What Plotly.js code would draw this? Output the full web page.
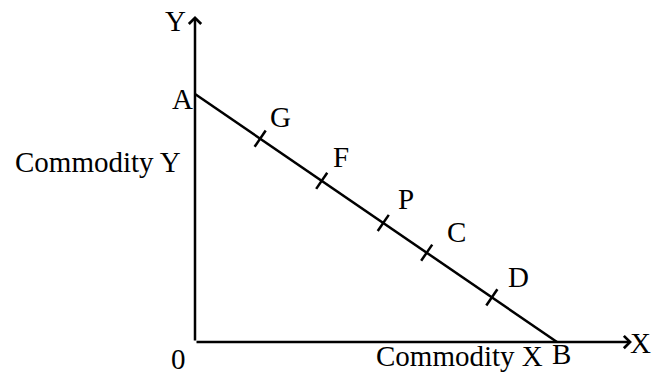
<!DOCTYPE html>
<html><head><meta charset="utf-8">
<script src="https://cdn.plot.ly/plotly-3.0.1.min.js"></script>
<style>html,body{margin:0;padding:0;background:#fff}</style>
</head><body><div id="chart" style="width:654px;height:385px"></div>
<script>
// Budget line from A (on Y axis) to B (on X axis)
const lineX = [0, 10];
const lineY = [10, 0];
const lineEndLabels = ['A', 'B'];
// Points marked along the budget line
const pointLabels = ['G', 'F', 'P', 'C', 'D'];
const pointX = [1.8, 3.5, 5.2, 6.4, 8.2];
const pointY = [8.2, 6.5, 4.8, 3.6, 1.8];
// Axes extents
const axisXEnd = 12.07;
const axisYEnd = 13.15;
const axisNames = ['X', 'Y'];
const axisTitles = ['Commodity X', 'Commodity Y'];
const originLabel = '0';

// ---- layout / styling ----
const W = 654, H = 385;
const ox = 195, oy = 342;       // origin in px
const sx = 36.2, sy = 24.8;     // px per unit
const FONT = {family: 'Liberation Serif, Times New Roman, serif', size: 29, color: '#000'};
const labelDx = [20, 19, 23, 30, 27];
const labelDy = [22, 24, 24, 21, 20];
const tickAngle = Math.atan2(sy * (lineY[0] - lineY[1]), sx * (lineX[1] - lineX[0])) * 180 / Math.PI;

const traces = [
  {x: lineX, y: lineY, mode: 'lines', line: {color: '#000', width: 2.5}, hoverinfo: 'skip'},
  {x: pointX, y: pointY, mode: 'markers', hoverinfo: 'skip',
   marker: {symbol: 'line-ns', size: 14, angle: tickAngle, color: '#000', line: {color: '#000', width: 2.5}}}
];

const ann = [];
// axes as arrows
ann.push({x: axisXEnd, y: 0, ax: 0, ay: 0, axref: 'x', ayref: 'y', xref: 'x', yref: 'y',
  showarrow: true, arrowhead: 4, arrowsize: 0.95, arrowwidth: 2.5, arrowcolor: '#000', text: '', standoff: 0});
ann.push({x: 0, y: axisYEnd, ax: 0, ay: 0, axref: 'x', ayref: 'y', xref: 'x', yref: 'y',
  showarrow: true, arrowhead: 4, arrowsize: 0.95, arrowwidth: 2.5, arrowcolor: '#000', text: '', standoff: 0});

function lab(text, x, y, xs, ys, xa) {
  ann.push({x: x, y: y, xref: 'x', yref: 'y', text: text, showarrow: false, font: FONT,
    xanchor: xa || 'center', yanchor: 'middle', xshift: xs, yshift: ys});
}
pointLabels.forEach((t, i) => lab(t, pointX[i], pointY[i], labelDx[i], labelDy[i]));
lab(lineEndLabels[0], lineX[0], lineY[0], -13, -5);
lab(lineEndLabels[1], lineX[1], lineY[1], 4, -12);
lab(axisNames[0], axisXEnd, 0, 21, -1, 'right');
lab(axisNames[1], 0, axisYEnd, -20, -5);
lab(originLabel, 0, 0, -17, -17);
lab(axisTitles[0], lineX[1], 0, -12, -14, 'right');
lab(axisTitles[1], 0, lineY[0], -182, -68, 'left');

const layout = {
  width: W, height: H, margin: {l: 0, r: 0, t: 0, b: 0, pad: 0},
  paper_bgcolor: '#fff', plot_bgcolor: '#fff', showlegend: false,
  xaxis: {range: [-ox / sx, (W - ox) / sx], visible: false, fixedrange: true},
  yaxis: {range: [(oy - H) / sy, oy / sy], visible: false, fixedrange: true},
  annotations: ann
};
Plotly.newPlot('chart', traces, layout, {staticPlot: true, displayModeBar: false});
</script></body></html>
